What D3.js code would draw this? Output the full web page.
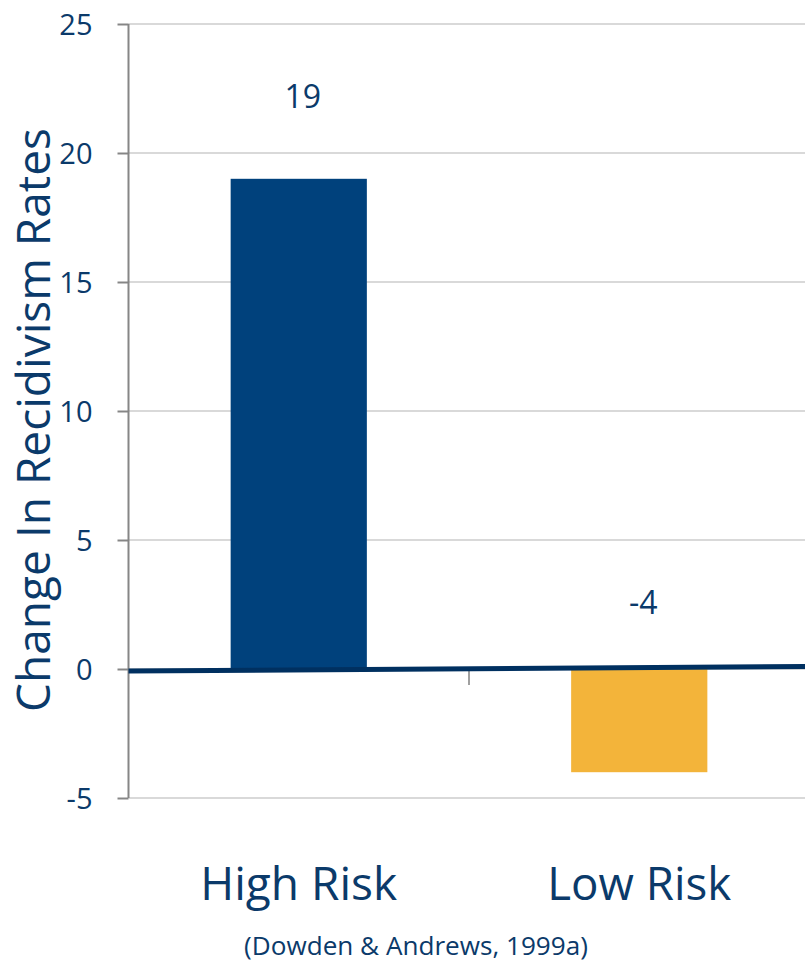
<!DOCTYPE html>
<html><head><meta charset="utf-8">
<script src="https://cdn.jsdelivr.net/npm/d3@7"></script>
<style>html,body{margin:0;padding:0;background:#fff;}svg{display:block;}</style>
</head><body>
<svg id="c" width="805" height="964"></svg>
<script>
const categories = ["High Risk", "Low Risk"];
const values = [19, -4];
const barColors = ["#00417C", "#F3B43A"];
const yTicks = [-5, 0, 5, 10, 15, 20, 25];
const yTitle = "Change In Recidivism Rates";
const source = "(Dowden & Andrews, 1999a)";

const W = 805, H = 964;
const textColor = "#0B3A6A";
const font = "'Open Sans', 'DejaVu Sans', sans-serif";
const svg = d3.select("#c");

const y = d3.scaleLinear().domain([-5, 25]).range([798, 24]);
const x = d3.scaleBand().domain(categories).range([128.5, 809.5]).paddingInner(0.6).paddingOuter(0.3);
const step = x.step();
const x0 = x.range()[0];

function fit(sel, target) {
  sel.each(function() {
    const node = this;
    let fs = parseFloat(node.getAttribute("font-size"));
    const len = node.getComputedTextLength();
    if (len > 0) node.setAttribute("font-size", (fs * target / len).toFixed(2));
  });
}

// gridlines
svg.append("g").selectAll("line").data(yTicks).join("line")
  .attr("x1", x0).attr("x2", W)
  .attr("y1", d => y(d)).attr("y2", d => y(d))
  .attr("stroke", "#D9D9D9").attr("stroke-width", 2);

// y axis
const yAxis = svg.append("g").attr("transform", `translate(${x0},0)`)
  .call(d3.axisLeft(y).tickValues(yTicks).tickSize(11).tickPadding(0).tickFormat(d3.format("d")));
yAxis.select(".domain").attr("stroke", "#868686").attr("stroke-width", 2).attr("d", `M0,${y(25)}V${y(-5)}`);
yAxis.selectAll(".tick line").attr("stroke", "#868686").attr("stroke-width", 2);
yAxis.selectAll(".tick text").attr("x", -36).attr("fill", textColor)
  .attr("font-family", font).attr("font-size", 29).attr("dy", "0.35em")
  .text(d => d < 0 ? "-" + Math.abs(d) : d);

// category divider tick
svg.append("g").selectAll("line").data(categories.slice(1)).join("line")
  .attr("x1", d => x(d) - step * x.paddingInner() / 2 * 0 - (step - x.bandwidth()) / 2)
  .attr("x2", d => x(d) - (step - x.bandwidth()) / 2)
  .attr("y1", y(0)).attr("y2", y(0) + 16)
  .attr("stroke", "#A0A0A0").attr("stroke-width", 2);

// bars
svg.append("g").selectAll("rect").data(values).join("rect")
  .attr("x", (d, i) => x(categories[i]))
  .attr("width", x.bandwidth())
  .attr("y", d => y(Math.max(0, d)))
  .attr("height", d => Math.abs(y(d) - y(0)))
  .attr("fill", (d, i) => barColors[i]);

// zero line (slightly slanted in original)
svg.append("line")
  .attr("x1", x0).attr("x2", W)
  .attr("y1", y(0) + 2).attr("y2", y(0) - 2.5)
  .attr("stroke", "#003060").attr("stroke-width", 5);

// value labels
const vl = svg.append("g").selectAll("text").data(values).join("text")
  .attr("x", (d, i) => x(categories[i]) + x.bandwidth() / 2 + 4)
  .attr("y", (d, i) => i === 0 ? 97 : 603)
  .attr("dy", "0.35em")
  .attr("text-anchor", "middle").attr("fill", textColor)
  .attr("font-family", font).attr("font-size", 32)
  .text(d => d < 0 ? "-" + Math.abs(d) : d);

// category labels
const cl = svg.append("g").selectAll("text").data(categories).join("text")
  .attr("x", d => x(d) + x.bandwidth() / 2)
  .attr("y", 900)
  .attr("text-anchor", "middle").attr("fill", textColor)
  .attr("font-family", font).attr("font-size", 46)
  .text(d => d);
fit(cl.filter((d, i) => i === 0), 197);
fit(cl.filter((d, i) => i === 1), 184);

// y title
const yt = svg.append("text")
  .attr("transform", `translate(50,420) rotate(-90)`)
  .attr("text-anchor", "middle").attr("fill", textColor)
  .attr("font-family", font).attr("font-size", 42)
  .text(yTitle);
fit(yt, 584);

// source
const st = svg.append("text")
  .attr("x", 416).attr("y", 955)
  .attr("text-anchor", "middle").attr("fill", textColor)
  .attr("font-family", font).attr("font-size", 25)
  .text(source);
fit(st, 344);
</script>
</body></html>
